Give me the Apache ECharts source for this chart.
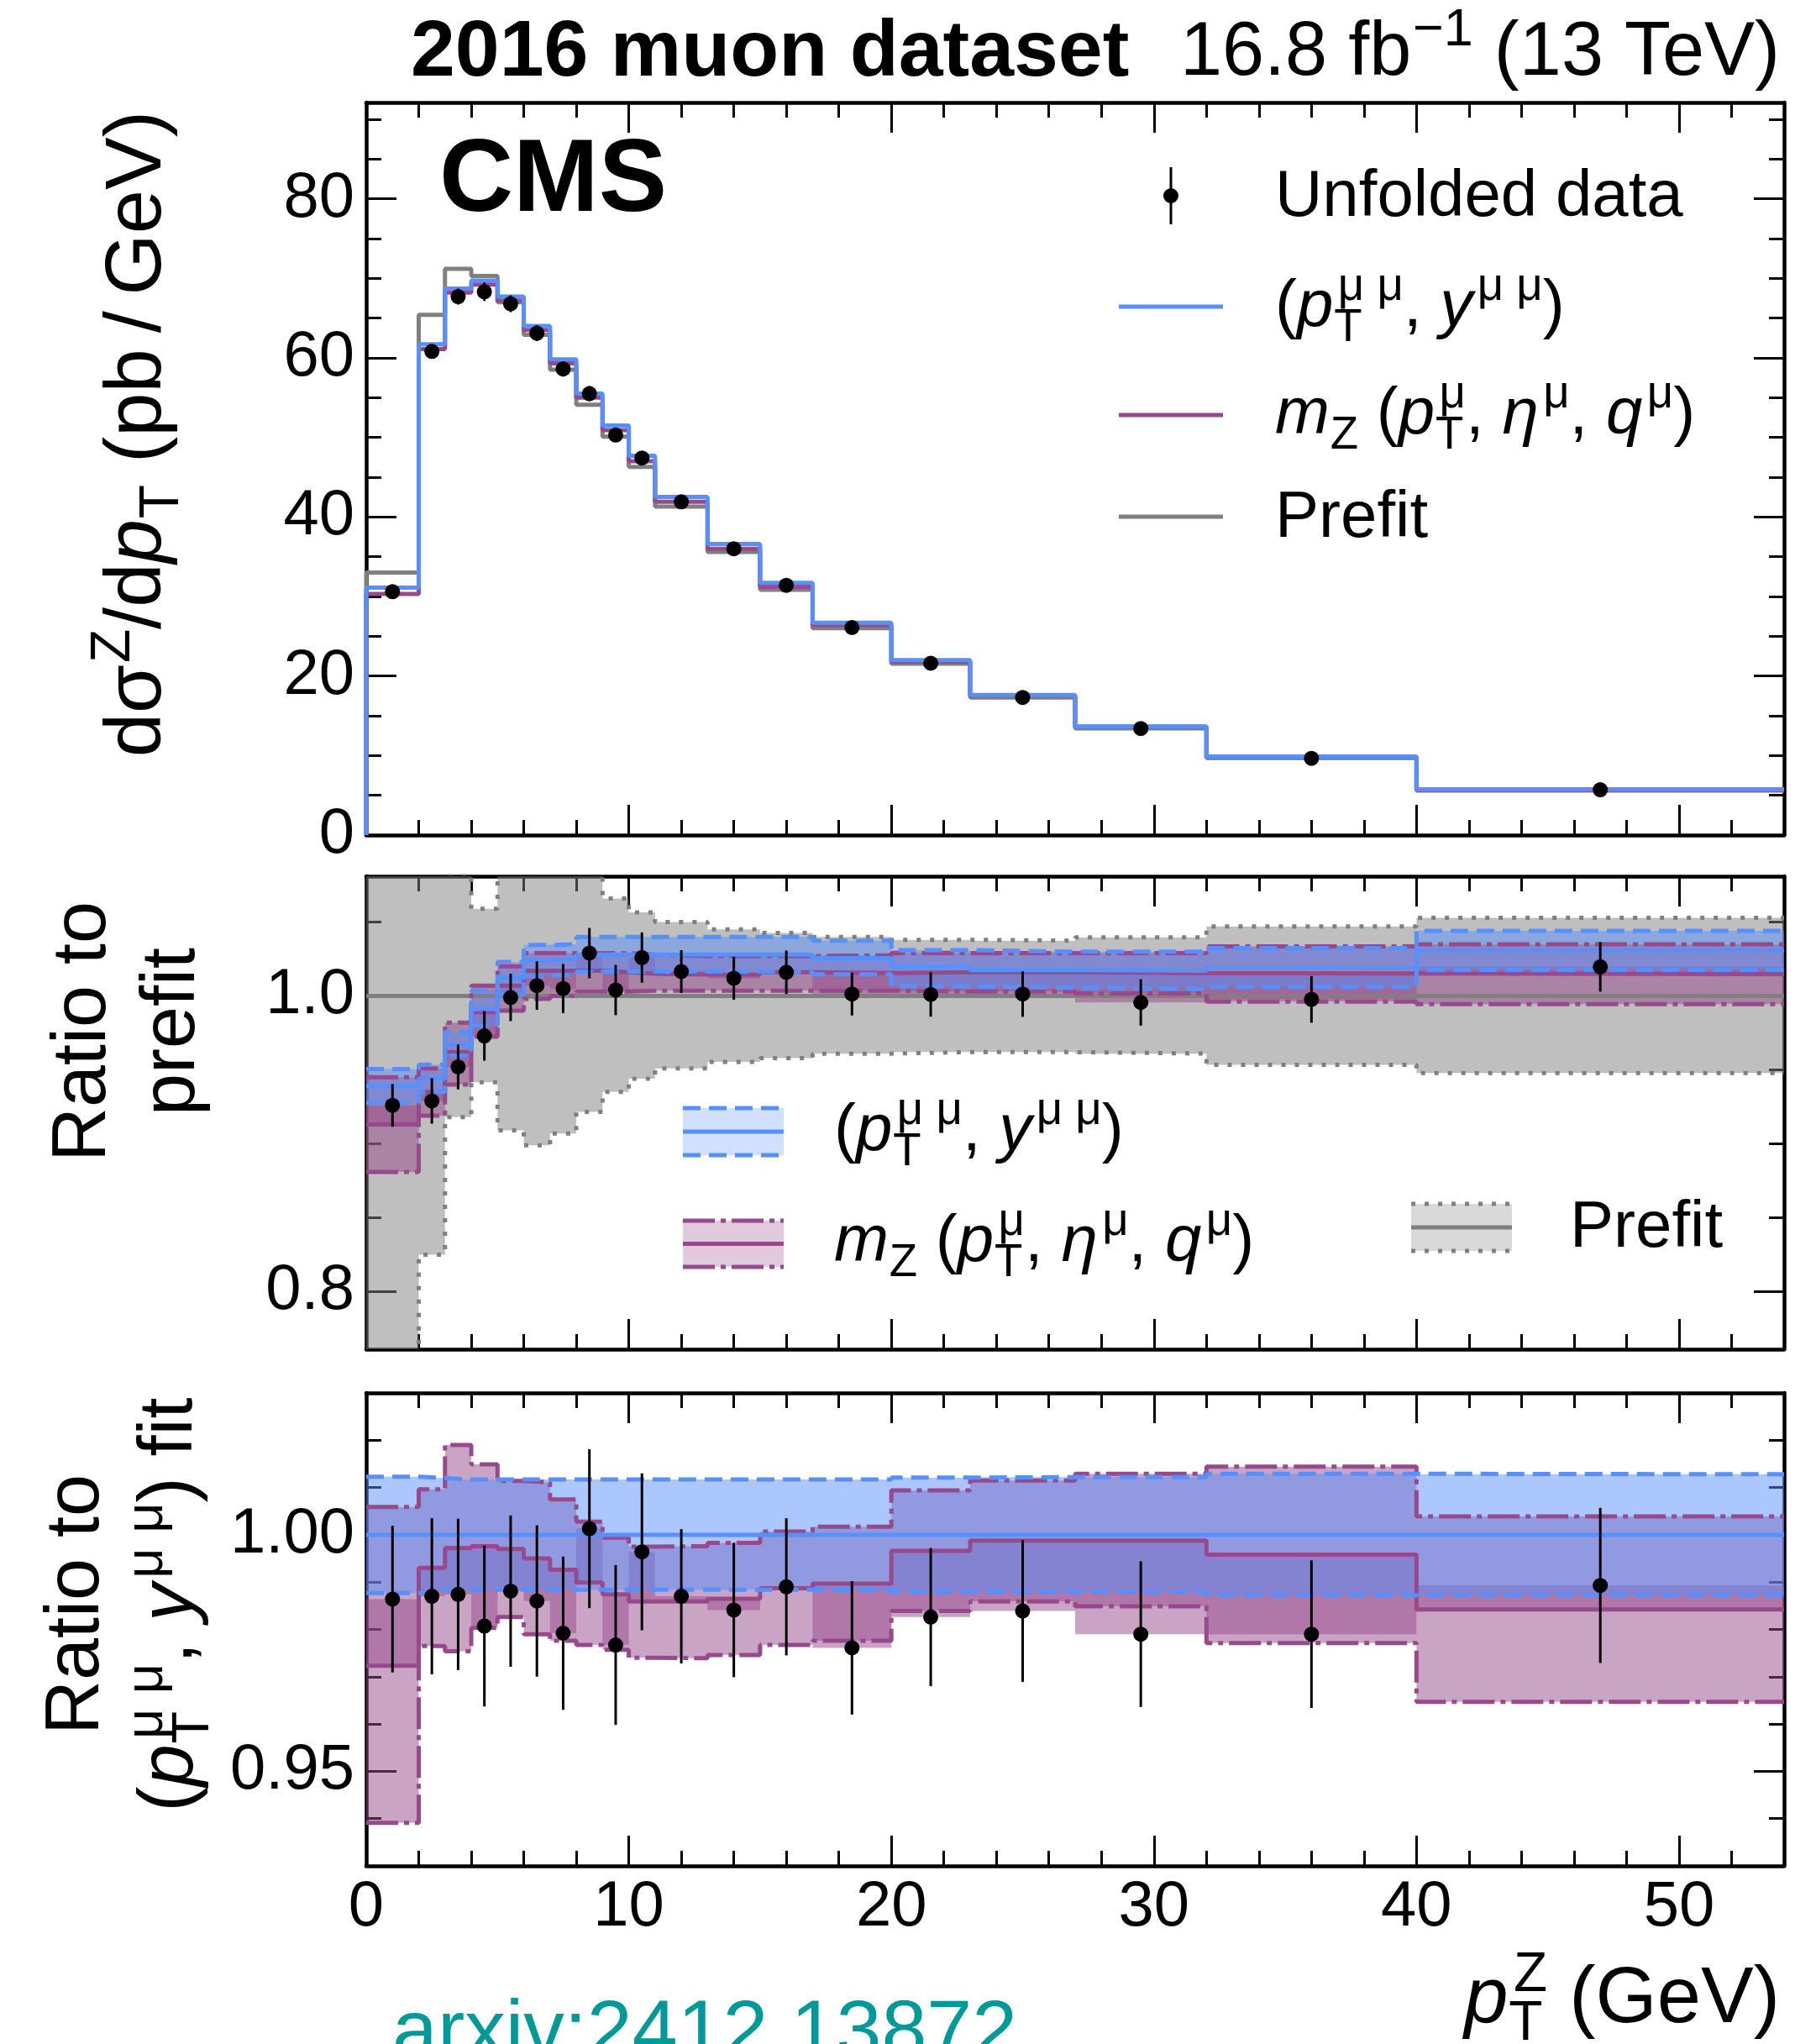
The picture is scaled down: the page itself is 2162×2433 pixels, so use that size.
<!DOCTYPE html>
<html>
<head>
<meta charset="utf-8">
<title>pTZ 2016 muon dataset</title>
<script src="https://cdn.jsdelivr.net/npm/echarts@6.0.0/dist/echarts.min.js"></script>
<style>
  html, body { margin: 0; padding: 0; background: #fff; }
  #chart { width: 2162px; height: 2433px; }
</style>
</head>
<body>
<div id="chart"></div>
<script>
// bins in pT(Z), GeV
const edges = [0, 2, 3, 4, 5, 6, 7, 8, 9, 10, 11, 13, 15, 17, 20, 23, 27, 32, 40, 54];
const centers = [1, 2.5, 3.5, 4.5, 5.5, 6.5, 7.5, 8.5, 9.5, 10.5, 12, 14, 16, 18.5, 21.5, 25, 29.5, 36, 47];

// top panel: dsigma/dpT (pb/GeV)
const dataTop = [30.6, 60.8, 67.7, 68.3, 66.8, 63.1, 58.6, 55.5, 50.3, 47.4, 41.9, 36.0, 31.4, 26.1, 21.6, 17.3, 13.4, 9.65, 5.7];
const errTop = [0.45, 0.9, 1.0, 1.15, 1.05, 1.0, 0.95, 0.95, 0.85, 0.8, 0.6, 0.52, 0.45, 0.37, 0.31, 0.26, 0.21, 0.15, 0.1];
const blueTop = [31.1, 61.7, 68.7, 69.7, 67.7, 64.0, 59.8, 55.5, 51.5, 47.7, 42.5, 36.6, 31.7, 26.7, 22.0, 17.6, 13.65, 9.87, 5.76];
const purpleTop = [30.3, 61.1, 68.2, 69.2, 67.2, 63.5, 59.3, 55.0, 50.9, 47.0, 41.9, 36.0, 31.2, 26.4, 21.8, 17.55, 13.62, 9.83, 5.67];
const prefitTop = [33.0, 65.4, 71.2, 70.3, 67.0, 62.9, 58.5, 54.1, 50.1, 46.3, 41.3, 35.6, 30.85, 26.0, 21.55, 17.3, 13.42, 9.68, 5.59];

// middle panel: ratio to prefit
const dataMid = [0.926, 0.929, 0.952, 0.973, 0.999, 1.007, 1.005, 1.029, 1.004, 1.026, 1.0165, 1.012, 1.016, 1.0013, 1.001, 1.0013, 0.9956, 0.9977, 1.0197];
const errMid = [0.0145, 0.0154, 0.0152, 0.0168, 0.016, 0.0164, 0.0166, 0.017, 0.017, 0.017, 0.0145, 0.0145, 0.0147, 0.0145, 0.015, 0.0154, 0.0157, 0.0158, 0.0168];
const prefitMidUp = [1.30, 1.175, 1.083, 1.059, 1.091, 1.101, 1.093, 1.085, 1.066, 1.0566, 1.050, 1.045, 1.0427, 1.040, 1.038, 1.0374, 1.0397, 1.047, 1.0528];
const prefitMidDn = [0.70, 0.825, 0.918, 0.9416, 0.909, 0.899, 0.907, 0.9216, 0.935, 0.944, 0.951, 0.9554, 0.958, 0.961, 0.962, 0.962, 0.961, 0.9534, 0.9478];
const blueMid = [0.939, 0.944, 0.967, 0.991, 1.012, 1.024, 1.025, 1.028, 1.028, 1.028, 1.028, 1.028, 1.028, 1.0256, 1.020, 1.0175, 1.017, 1.0194, 1.0307];
const blueMidUp = [0.9505, 0.9535, 0.9757, 1.0036, 1.023, 1.0345, 1.035, 1.040, 1.040, 1.040, 1.040, 1.040, 1.040, 1.0374, 1.031, 1.030, 1.030, 1.0324, 1.044];
const blueMidDn = [0.9277, 0.935, 0.9596, 0.980, 1.001, 1.0135, 1.0146, 1.0165, 1.0165, 1.0165, 1.0165, 1.0165, 1.016, 1.0146, 1.0065, 1.0055, 1.0047, 1.0061, 1.0176];
const purpleMid = [0.913, 0.935, 0.962, 0.989, 1.007, 1.017, 1.017, 1.017, 1.016, 1.015, 1.0145, 1.0145, 1.016, 1.0155, 1.016, 1.016, 1.0155, 1.0152, 1.0148];
const purpleMidUp = [0.945, 0.951, 0.982, 1.007, 1.020, 1.029, 1.029, 1.029, 1.029, 1.028, 1.027, 1.027, 1.027, 1.0275, 1.029, 1.029, 1.029, 1.0335, 1.035];
const purpleMidDn = [0.881, 0.919, 0.940, 0.9725, 0.990, 0.998, 1.000, 1.003, 1.003, 1.0035, 1.0035, 1.0035, 1.0035, 1.0036, 1.003, 1.003, 1.0017, 0.9962, 0.9945];

// bottom panel: ratio to (pT, y) fit
const dataBot = [0.9864, 0.9870, 0.9874, 0.9807, 0.9881, 0.9860, 0.9792, 1.0013, 0.9767, 0.9964, 0.9870, 0.9841, 0.9890, 0.9761, 0.9826, 0.9839, 0.9790, 0.9790, 0.9893];
const errBot = [0.0155, 0.0165, 0.016, 0.017, 0.016, 0.016, 0.0162, 0.0168, 0.0169, 0.0166, 0.0142, 0.0142, 0.0145, 0.0141, 0.0146, 0.015, 0.0154, 0.0156, 0.0164];
const blueBotUp = [1.0123, 1.0120, 1.0117, 1.0117, 1.0117, 1.0117, 1.0117, 1.0117, 1.0117, 1.0117, 1.0117, 1.0117, 1.0117, 1.0117, 1.0121, 1.0122, 1.0122, 1.0129, 1.0128];
const blueBotDn = [0.9877, 0.9880, 0.9884, 0.9884, 0.9884, 0.9884, 0.9884, 0.9884, 0.9884, 0.9884, 0.9884, 0.9884, 0.9884, 0.9884, 0.9879, 0.9878, 0.9878, 0.9872, 0.9872];
const purpleBot = [0.9723, 0.993, 0.9972, 0.9976, 0.997, 0.995, 0.9926, 0.9899, 0.9874, 0.9859, 0.9859, 0.9865, 0.9887, 0.9897, 0.9966, 0.9988, 0.9988, 0.9958, 0.9842];
const purpleBotUp = [1.0059, 1.0096, 1.019, 1.0149, 1.0114, 1.0111, 1.0075, 1.0028, 0.9994, 0.9975, 0.9976, 0.9983, 1.0007, 1.0017, 1.0094, 1.0115, 1.0129, 1.0144, 1.0039];
const purpleBotDn = [0.9391, 0.9765, 0.9754, 0.9803, 0.9826, 0.979, 0.9776, 0.9767, 0.9757, 0.974, 0.9739, 0.9746, 0.9767, 0.9776, 0.9839, 0.9859, 0.9849, 0.9771, 0.9647];
const refLine = 1.0;

// ticks
const xMajor = [0, 10, 20, 30, 40, 50];
const xMinor = [2, 4, 6, 8, 12, 14, 16, 18, 22, 24, 26, 28, 32, 34, 36, 38, 42, 44, 46, 48, 52];
const topMajor = [0, 20, 40, 60, 80];
const topMinor = [5, 10, 15, 25, 30, 35, 45, 50, 55, 65, 70, 75, 85, 90];
const midMajor = [0.8, 1.0];
const midMinor = [0.85, 0.9, 0.95, 1.05];
const botMajor = [0.95, 1.0];
const botMinor = [0.94, 0.96, 0.97, 0.98, 0.99, 1.01, 1.02];
const xRange = [0, 54];
const topRange = [0, 92.1];
const midRange = [0.761, 1.081];
const botRange = [0.93, 1.03];

const BLUE = '#5790fc';
const PURPLE = '#964a8b';
const GREY = '#7f7f7f';
const FONT = '"Liberation Sans", Arial, Helvetica, sans-serif';
const DASH = [21, 10];
const DASHDOT = [38, 7, 6, 7];
const DOT = [5, 11];

function axis(g, pos, ticks, len, label, range, line) {
  return {
    gridIndex: g, type: 'value', position: pos, min: range[0], max: range[1],
    axisLine: { show: line, onZero: false, lineStyle: { color: '#000', width: 4.5 } },
    axisTick: { show: true, inside: true, length: len, customValues: ticks, lineStyle: { color: '#000', width: 3 } },
    axisLabel: label || { show: false },
    splitLine: { show: false },
    splitArea: { show: false }
  };
}
function tickLabel(values, digits, margin) {
  return {
    show: true, customValues: values, fontSize: 76, fontFamily: FONT, color: '#000', margin: margin,
    formatter: v => Number(v).toFixed(digits)
  };
}

let xAxes = [], yAxes = [];
[[topRange, topMajor, topMinor, 0], [midRange, midMajor, midMinor, 1], [botRange, botMajor, botMinor, 2]].forEach((p, g) => {
  const [range, major, minor, digits] = p;
  xAxes.push(axis(g, 'bottom', xMajor, 36, g === 2 ? tickLabel(xMajor, 0, 12) : null, xRange, true));
  xAxes.push(axis(g, 'bottom', xMinor, 18, null, xRange, false));
  xAxes.push(axis(g, 'top', xMajor, 36, null, xRange, true));
  xAxes.push(axis(g, 'top', xMinor, 18, null, xRange, false));
  yAxes.push(axis(g, 'left', major, 36, tickLabel(major, digits, 14), range, true));
  yAxes.push(axis(g, 'left', minor, 18, null, range, false));
  yAxes.push(axis(g, 'right', major, 36, null, range, true));
  yAxes.push(axis(g, 'right', minor, 18, null, range, false));
});

function stepPoints(vals) {
  const pts = vals.map((v, i) => [edges[i], v]);
  pts.push([edges[edges.length - 1], vals[vals.length - 1]]);
  return pts;
}
function stepLine(g, vals, color, dash, z, fromZero) {
  return {
    type: 'line', xAxisIndex: 4 * g, yAxisIndex: 4 * g, step: 'end', z: z, silent: true,
    data: fromZero ? [[edges[0], 0]].concat(stepPoints(vals)) : stepPoints(vals),
    symbol: 'none', showSymbol: false,
    lineStyle: { color: color, width: 5, type: dash || 'solid' }
  };
}
function flatLine(g, value, color, z) {
  return {
    type: 'line', xAxisIndex: 4 * g, yAxisIndex: 4 * g, z: z, silent: true, symbol: 'none',
    data: [[edges[0], value], [edges[edges.length - 1], value]],
    lineStyle: { color: color, width: 5 }
  };
}
function bandFill(g, lo, hi, color, z, range) {
  const cl = v => Math.min(range[1], Math.max(range[0], v));
  return {
    type: 'custom', xAxisIndex: 4 * g, yAxisIndex: 4 * g, z: z, silent: true,
    data: [[edges[0], range[0]]], encode: { x: 0, y: 1 },
    renderItem(params, api) {
      const pts = [];
      for (let i = 0; i < lo.length; i++) {
        pts.push(api.coord([edges[i], cl(hi[i])]), api.coord([edges[i + 1], cl(hi[i])]));
      }
      for (let i = lo.length - 1; i >= 0; i--) {
        pts.push(api.coord([edges[i + 1], cl(lo[i])]), api.coord([edges[i], cl(lo[i])]));
      }
      return { type: 'polygon', shape: { points: pts }, style: { fill: color } };
    }
  };
}
function points(g, vals, errs) {
  return [{
    type: 'custom', xAxisIndex: 4 * g, yAxisIndex: 4 * g, z: 8, silent: true,
    data: centers.map((c, i) => [c, vals[i] - errs[i], vals[i] + errs[i]]),
    encode: { x: 0, y: [1, 2] },
    renderItem(params, api) {
      const a = api.coord([api.value(0), api.value(1)]);
      const b = api.coord([api.value(0), api.value(2)]);
      return { type: 'line', shape: { x1: a[0], y1: a[1], x2: b[0], y2: b[1] }, style: { stroke: '#000', lineWidth: 3 } };
    }
  }, {
    type: 'scatter', xAxisIndex: 4 * g, yAxisIndex: 4 * g, z: 9, silent: true,
    data: centers.map((c, i) => [c, vals[i]]),
    symbolSize: 18, itemStyle: { color: '#000', opacity: 1 }
  }];
}
const lower = (a, b) => a.map((v, i) => Math.min(v, b[i]));
const upper = (a, b) => a.map((v, i) => Math.max(v, b[i]));

let series = [];
// top panel
series.push(stepLine(0, prefitTop, GREY, null, 2, true));
series.push(stepLine(0, purpleTop, PURPLE, null, 3, true));
series.push(stepLine(0, blueTop, BLUE, null, 4, true));
series = series.concat(points(0, dataTop, errTop));
// middle panel
series.push(bandFill(1, prefitMidDn, prefitMidUp, 'rgba(128,128,128,0.5)', 1, midRange));
series.push(bandFill(1, purpleMidDn, purpleMidUp, 'rgba(150,74,139,0.5)', 2, midRange));
series.push(bandFill(1, lower(dataMid, purpleMid), upper(dataMid, purpleMid), 'rgba(150,74,139,0.5)', 3, midRange));
series.push(bandFill(1, blueMidDn, blueMidUp, 'rgba(87,144,252,0.5)', 4, midRange));
series.push(stepLine(1, prefitMidUp, GREY, DOT, 5));
series.push(stepLine(1, prefitMidDn, GREY, DOT, 5));
series.push(flatLine(1, refLine, GREY, 5));
series.push(stepLine(1, purpleMidUp, PURPLE, DASHDOT, 6));
series.push(stepLine(1, purpleMidDn, PURPLE, DASHDOT, 6));
series.push(stepLine(1, purpleMid, PURPLE, null, 6));
series.push(stepLine(1, blueMidUp, BLUE, DASH, 7));
series.push(stepLine(1, blueMidDn, BLUE, DASH, 7));
series.push(stepLine(1, blueMid, BLUE, null, 7));
series = series.concat(points(1, dataMid, errMid));
// bottom panel
series.push(bandFill(2, purpleBotDn, purpleBotUp, 'rgba(150,74,139,0.5)', 2, botRange));
series.push(bandFill(2, lower(dataBot, purpleBot), upper(dataBot, purpleBot), 'rgba(150,74,139,0.5)', 3, botRange));
series.push(bandFill(2, blueBotDn, blueBotUp, 'rgba(87,144,252,0.5)', 4, botRange));
series.push(stepLine(2, purpleBotUp, PURPLE, DASHDOT, 6));
series.push(stepLine(2, purpleBotDn, PURPLE, DASHDOT, 6));
series.push(stepLine(2, purpleBot, PURPLE, null, 6));
series.push(stepLine(2, blueBotUp, BLUE, DASH, 7));
series.push(stepLine(2, blueBotDn, BLUE, DASH, 7));
series.push(flatLine(2, refLine, BLUE, 7));
series = series.concat(points(2, dataBot, errBot));

// text with sub/superscripts, laid out by measuring glyph widths
const mctx = document.createElement('canvas').getContext('2d');
function fnt(size, it, bold) {
  return (it ? 'italic ' : '') + (bold ? 'bold ' : '') + size + 'px ' + FONT;
}
function measure(t, size, it, bold) {
  mctx.font = fnt(size, it, bold);
  return mctx.measureText(t).width;
}
function mathText(parts, size, x, y, opt) {
  opt = opt || {};
  const kids = [];
  const color = opt.color || '#000';
  let cur = 0;
  const put = (t, fs, it, bold, px, dy) => {
    kids.push({
      type: 'text', x: px, y: dy - 0.35 * fs, silent: true,
      style: { text: t, font: fnt(fs, it, bold), fill: color, align: 'left', verticalAlign: 'middle', textAlign: 'left', textVerticalAlign: 'middle' }
    });
    return measure(t, fs, it, bold);
  };
  parts.forEach(p => {
    const w = put(p.t, size, p.it, p.b, cur, 0);
    const base = cur + w;
    let adv = 0;
    const s = size * 0.7;
    if (p.sup) {
      const off = p.it ? 0.07 * size : 0.02 * size;
      adv = Math.max(adv, off + put(p.sup, s, false, p.b, base + off, -0.42 * size));
    }
    if (p.sub) {
      const off = 0.01 * size;
      adv = Math.max(adv, off + put(p.sub, s, false, p.b, base + off, 0.2 * size));
    }
    cur = base + adv;
  });
  const shift = opt.align === 'right' ? -cur : opt.align === 'center' ? -cur / 2 : 0;
  kids.forEach(k => { k.x += shift; });
  return { type: 'group', x: x, y: y, rotation: opt.rotation || 0, silent: true, children: kids, z: 100 };
}

const MU2 = 'μ μ';
const pTyy = [{ t: '(' }, { t: 'p', it: true, sub: 'T', sup: MU2 }, { t: ', ' }, { t: 'y', it: true, sup: MU2 }, { t: ')' }];
const mZ = [{ t: 'm', it: true, sub: 'Z' }, { t: ' (' }, { t: 'p', it: true, sub: 'T', sup: 'μ' }, { t: ', ' },
  { t: 'η', it: true, sup: 'μ' }, { t: ', ' }, { t: 'q', it: true, sup: 'μ' }, { t: ')' }];
const ROT = Math.PI / 2;

function patch(x, y0, y1, fill, color, dash) {
  return [
    { type: 'rect', shape: { x: x, y: y0, width: 120, height: y1 - y0 }, style: { fill: fill }, z: 100 },
    { type: 'line', shape: { x1: x, y1: y0, x2: x + 120, y2: y0 }, style: { stroke: color, lineWidth: 5, lineDash: dash }, z: 101 },
    { type: 'line', shape: { x1: x, y1: y1, x2: x + 120, y2: y1 }, style: { stroke: color, lineWidth: 5, lineDash: dash }, z: 101 },
    { type: 'line', shape: { x1: x, y1: (y0 + y1) / 2, x2: x + 120, y2: (y0 + y1) / 2 }, style: { stroke: color, lineWidth: 5 }, z: 101 }
  ];
}

let graphics = [
  mathText([{ t: '2016 muon dataset', b: true }], 95, 489, 97),
  mathText([{ t: '16.8 fb', sup: '−1' }, { t: ' (13 TeV)' }], 90, 2119, 96, { align: 'right' }),
  mathText([{ t: 'CMS', b: true }], 122, 523, 260),
  // top legend
  { type: 'line', shape: { x1: 1394, y1: 199, x2: 1394, y2: 267 }, style: { stroke: '#000', lineWidth: 3 }, z: 100 },
  { type: 'circle', shape: { cx: 1394, cy: 233, r: 9 }, style: { fill: '#000' }, z: 100 },
  { type: 'line', shape: { x1: 1332, y1: 365, x2: 1456, y2: 365 }, style: { stroke: BLUE, lineWidth: 5 }, z: 100 },
  { type: 'line', shape: { x1: 1332, y1: 494, x2: 1456, y2: 494 }, style: { stroke: PURPLE, lineWidth: 5 }, z: 100 },
  { type: 'line', shape: { x1: 1332, y1: 615, x2: 1456, y2: 615 }, style: { stroke: GREY, lineWidth: 5 }, z: 100 },
  mathText([{ t: 'Unfolded data' }], 78, 1518, 263),
  mathText(pTyy, 78, 1518, 394),
  mathText(mZ, 78, 1518, 522),
  mathText([{ t: 'Prefit' }], 78, 1518, 645),
  // middle legend
  mathText(pTyy, 78, 993, 1375),
  mathText(mZ, 78, 993, 1507),
  mathText([{ t: 'Prefit' }], 78, 1869, 1490),
  // axis titles
  mathText([{ t: 'dσ', sup: 'Z' }, { t: '/d' }, { t: 'p', it: true, sub: 'T' }, { t: ' (pb\u2009/\u2009GeV)' }], 94, 198, 132, { align: 'right', rotation: ROT }),
  mathText([{ t: 'Ratio to' }], 90, 132, 1228, { align: 'center', rotation: ROT }),
  mathText([{ t: 'prefit' }], 90, 238, 1228, { align: 'center', rotation: ROT }),
  mathText([{ t: 'Ratio to' }], 90, 124, 1910, { align: 'center', rotation: ROT }),
  mathText(pTyy.concat([{ t: ' fit' }]), 90, 235, 1910, { align: 'center', rotation: ROT }),
  mathText([{ t: 'p', it: true, sub: 'T', sup: 'Z' }, { t: ' (GeV)' }], 94, 2119, 2414, { align: 'right' }),
  mathText([{ t: 'arxiv:2412.13872' }], 97, 467, 2455, { color: '#009999' })
];
graphics = graphics.concat(
  patch(813, 1319, 1375, 'rgba(87,144,252,0.28)', BLUE, DASH),
  patch(813, 1453, 1508, 'rgba(150,74,139,0.29)', PURPLE, DASHDOT),
  patch(1680, 1433, 1489, 'rgba(128,128,128,0.3)', GREY, DOT)
);

let chart = echarts.init(document.getElementById('chart'));
let options = {
  animation: false,
  backgroundColor: '#fff',
  grid: [
    { left: 436, top: 122, width: 1688, height: 872, containLabel: false, outerBoundsMode: 'none' },
    { left: 436, top: 1043, width: 1688, height: 563, containLabel: false, outerBoundsMode: 'none' },
    { left: 436, top: 1658, width: 1688, height: 563, containLabel: false, outerBoundsMode: 'none' }
  ],
  xAxis: xAxes,
  yAxis: yAxes,
  series: series,
  graphic: { elements: graphics }
};
chart.setOption(options);
</script>
</body>
</html>
